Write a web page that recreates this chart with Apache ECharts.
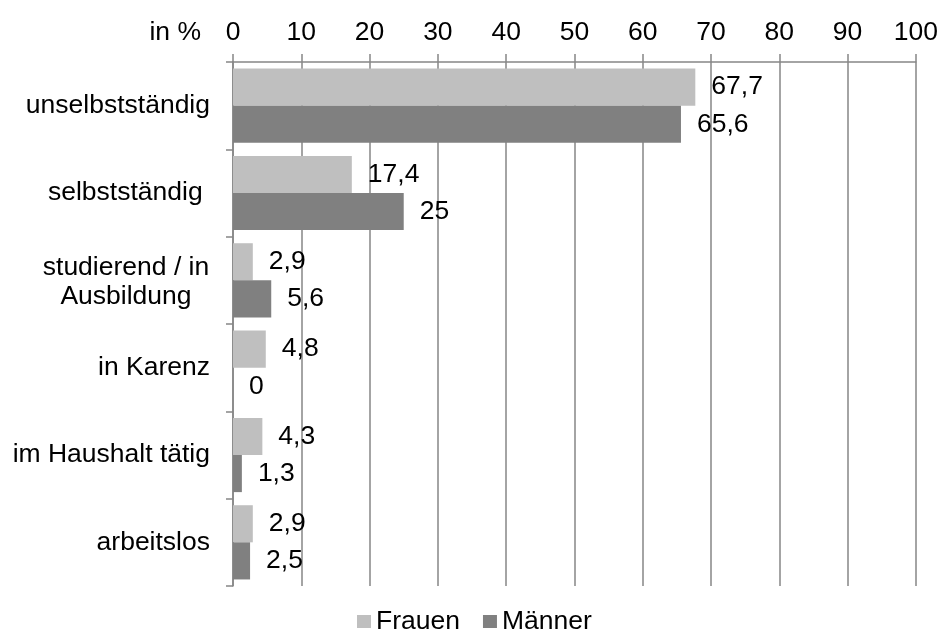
<!DOCTYPE html>
<html>
<head>
<meta charset="utf-8">
<script src="https://cdn.jsdelivr.net/npm/echarts@6/dist/echarts.min.js"></script>
<style>html,body{margin:0;padding:0;background:#fff;}#c{width:941px;height:633px;}</style>
</head>
<body>
<div id="c"></div>
<script>
var categories = ['unselbstständig', 'selbstständig ', 'studierend / in\nAusbildung', 'in Karenz', 'im Haushalt tätig', 'arbeitslos'];
var frauen = [67.7, 17.4, 2.9, 4.8, 4.3, 2.9];
var maenner = [65.6, 25, 5.6, 0, 1.3, 2.5];
var seriesNames = ['Frauen', 'Männer'];
var xTicks = {min: 0, max: 100, interval: 10};
var unitLabel = 'in %';

var FONT = 'Liberation Sans, Arial, sans-serif';
var FS = 26.5;
var chart = echarts.init(document.getElementById('c'));
function fmt(p) { return String(p.value).replace('.', ','); }
var labelStyle = {show: true, position: 'right', distance: 16, fontSize: FS, color: '#000', fontFamily: FONT, formatter: fmt};
chart.setOption({
  animation: false,
  backgroundColor: '#fff',
  textStyle: {fontFamily: FONT},
  grid: {left: 233, right: 24, top: 62, bottom: 47, containLabel: false},
  legend: {
    top: 603, left: 352, icon: 'rect', itemWidth: 14, itemHeight: 13, itemGap: 23,
    textStyle: {fontSize: FS, color: '#000', fontFamily: FONT, padding: [0, 0, 0, 0]},
    data: seriesNames
  },
  graphic: [{
    type: 'text', right: 941 - 201, top: 19,
    style: {text: unitLabel, fontSize: FS, fill: '#000', fontFamily: FONT, textAlign: 'right'}
  }],
  xAxis: {
    type: 'value', position: 'top', min: xTicks.min, max: xTicks.max, interval: xTicks.interval,
    axisLine: {show: true, lineStyle: {color: '#868686', width: 1.5}},
    axisTick: {show: true, length: 8, lineStyle: {color: '#868686', width: 1.5}},
    splitLine: {show: true, lineStyle: {color: '#868686', width: 1.5}},
    axisLabel: {fontSize: FS, color: '#000', fontFamily: FONT, margin: 16}
  },
  yAxis: {
    type: 'category', inverse: true, data: categories,
    axisLine: {show: true, lineStyle: {color: '#868686', width: 1.5}},
    axisTick: {show: true, length: 7, lineStyle: {color: '#868686', width: 1.5}},
    axisLabel: {
      fontSize: FS, color: '#000', fontFamily: FONT, margin: 23, align: 'right', lineHeight: 29,
      formatter: function (v) {
        if (v.indexOf('\n') >= 0) {
          return v.split('\n').map(function (s) { return '{c|' + s + '}'; }).join('\n');
        }
        return v;
      },
      rich: {c: {width: 168, align: 'center', fontSize: FS, lineHeight: 29, color: '#000', fontFamily: FONT, padding: [4, 0, 0, 0]}}
    }
  },
  series: [
    {name: seriesNames[0], type: 'bar', data: frauen, barGap: '0%', barCategoryGap: '15%',
     itemStyle: {color: '#bfbfbf'}, label: labelStyle},
    {name: seriesNames[1], type: 'bar', data: maenner, barGap: '0%', barCategoryGap: '15%',
     itemStyle: {color: '#808080'}, label: labelStyle}
  ]
});
</script>
</body>
</html>
